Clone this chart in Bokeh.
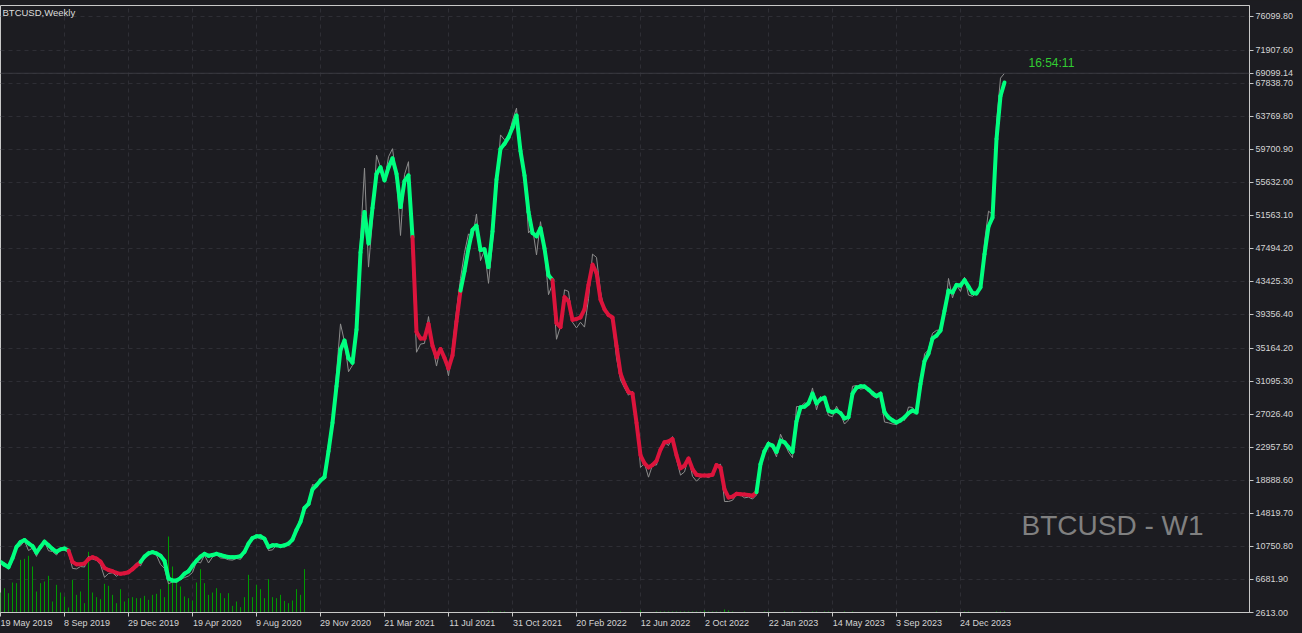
import pandas as pd
from bokeh.plotting import figure
from bokeh.models import (FixedTicker, PrintfTickFormatter, Range1d, Label, Span,
                          ColumnDataSource)
from bokeh.embed import file_html
from bokeh.resources import INLINE

# ---------------- data ----------------
symbol = "BTCUSD"
period_name = "Weekly"
first_week = "2019-05-19"
clock_text = "16:54:11"
watermark = "BTCUSD - W1"

# weekly close (thin grey line)
close = [
    8750, 8720, 7950, 8980, 10700, 10820, 11450, 10250, 10550, 9530,
    10980, 11380, 10230, 10140, 9700, 10400, 10310, 10020, 8050, 7990,
    8280, 8220, 9550, 9200, 9040, 8500, 6950, 7420, 7510, 7080,
    7510, 7390, 7760, 8190, 8700, 8360, 9350, 10170, 9930, 9670,
    8550, 8030, 6150, 6400, 6300, 6780, 6910, 7120, 7540, 8900,
    8720, 9680, 8720, 9450, 9760, 9340, 9300, 9120, 9070, 9280,
    9170, 9930, 11050, 11680, 11910, 11660, 11710, 10260, 10330, 10930,
    10770, 10680, 11380, 11500, 13030, 13740, 15480, 15960, 18400, 18180,
    19150, 19270, 23460, 26270, 32200, 38200, 36000, 32300, 33100, 38900,
    48600, 57400, 45200, 51000, 59000, 57500, 55800, 58800, 59800, 56200,
    49100, 56600, 58200, 46400, 34700, 35700, 35800, 39100, 35500, 33000,
    35300, 34200, 31800, 35400, 39900, 43800, 47000, 49300, 48800, 51750,
    46000, 47300, 43200, 48200, 54700, 61500, 60900, 61300, 63300, 64800,
    58700, 57300, 49400, 50100, 46700, 50800, 47300, 41800, 43100, 36300,
    37900, 42400, 42200, 38400, 37700, 38400, 37800, 41300, 46800, 46400,
    42200, 39700, 39500, 38500, 34000, 31300, 30300, 29400, 29900, 26600,
    20500, 21000, 19300, 20800, 20800, 22600, 23600, 23200, 24300, 21500,
    19550, 19950, 21800, 19400, 18800, 19300, 19450, 19250, 19550, 20600,
    20900, 16300, 16300, 16450, 17100, 17100, 16750, 16840, 16600, 17100,
    20900, 22700, 23700, 22900, 21800, 24600, 23500, 22400, 21700, 28000,
    28000, 28450, 28300, 30300, 27600, 29250, 28700, 26900, 26750, 28050,
    27100, 25850, 26350, 30500, 30600, 30150, 30250, 30000, 29300, 29050,
    29300, 26100, 26000, 25850, 25800, 26550, 26300, 27950, 27900, 27150,
    30000, 34500, 35000, 37050, 37400, 37450, 39450, 43800, 41400, 43000,
    42200, 43950, 41750, 41600, 42000, 42600, 48300, 52100, 51700, 63100,
    68500, 69099.14,
]

# smoothed trend line (thick coloured line)
trend = [
    8850, 8500, 8200, 9300, 10700, 11300, 11550, 11150, 10800, 10000,
    10700, 11350, 10900, 10450, 10100, 10400, 10500, 10250, 8850, 8550,
    8550, 8650, 9200, 9430, 9250, 8900, 8100, 7850, 7700, 7500,
    7380, 7450, 7580, 7950, 8400, 8850, 9500, 9900, 10050, 9900,
    9600, 9000, 6800, 6560, 6560, 6850, 7400, 7700, 8400, 9000,
    9500, 9850, 9600, 9700, 9850, 9700, 9550, 9450, 9430, 9470,
    9550, 10100, 11100, 11800, 12000, 12000, 11700, 10700, 10900, 10900,
    10800, 10900, 11100, 11600, 12800, 13800, 15500, 16000, 17800, 18300,
    18900, 19300, 22500, 26000, 30500, 35000, 36150, 34000, 33400, 37500,
    47000, 52000, 48100, 52500, 56700, 57500, 55900, 57500, 58600, 56700,
    52600, 55800, 56500, 48900, 37200, 36400, 36400, 38200, 35500, 34100,
    35100, 34000, 32700, 34300, 38500, 42300, 44700, 47500, 49800, 50300,
    47300, 47400, 45200, 49600, 56000, 59800, 60400, 61200, 62400, 63900,
    59500, 56500, 52000, 49400, 49000, 50000, 47500, 44200, 43600, 38300,
    37800, 41500, 41000, 38700, 38800, 39000, 40000, 43000, 45500, 44500,
    41200, 40000, 39300, 39000, 35500, 32100, 30800, 29800, 29600, 26000,
    22000, 21000, 20500, 20800, 21300, 22700, 23600, 23700, 24000, 22000,
    20400, 20700, 21600, 20300, 19600, 19500, 19500, 19500, 19600, 20800,
    20500, 17800, 16800, 16900, 17250, 17200, 17150, 17100, 17000, 17450,
    20900, 22500, 23400, 23200, 22400, 23800, 23600, 23000, 22400, 26200,
    27900, 28000, 28400, 29600, 28400, 28900, 29100, 27500, 27300, 27500,
    27200, 26550, 26700, 29600, 30350, 30500, 30480, 30100, 29650, 29300,
    29600, 27300, 26660, 26300, 26050, 26300, 26660, 27200, 27520, 27270,
    30800, 33600, 34550, 36400, 36750, 37380, 39800, 42300, 42070, 43000,
    42930, 43600, 42800, 42000, 41950, 42700, 46800, 50200, 51300, 61000,
    66300, 67960,
]

# tick volume (arbitrary units)
volume = [
    60, 73, 58, 90, 88, 158, 161, 170, 138, 63,
    88, 93, 110, 33, 83, 60, 48, 15, 98, 53,
    63, 28, 182, 60, 46, 40, 86, 80, 53, 28,
    70, 33, 43, 46, 43, 43, 50, 38, 53, 56,
    70, 46, 228, 138, 88, 78, 48, 43, 36, 90,
    130, 88, 53, 60, 73, 58, 43, 58, 20, 33,
    16, 46, 113, 46, 83, 70, 43, 100, 46, 43,
    53, 35, 28, 36, 70, 53, 130, 0, 0, 0,
    0, 0, 0, 0, 0, 0, 0, 0, 0, 0,
    0, 0, 0, 0, 0, 0, 0, 0, 0, 0,
    0, 0, 0, 0, 0, 0, 0, 0, 0, 0,
    0, 0, 0, 0, 0, 0, 0, 0, 0, 0,
    0, 0, 3, 3, 0, 3, 3, 0, 0, 0,
    0, 0, 0, 0, 0, 0, 0, 0, 0, 0,
    0, 0, 0, 0, 0, 0, 0, 0, 0, 0,
    0, 0, 0, 0, 0, 3, 0, 0, 0, 0,
    6, 0, 0, 0, 3, 3, 3, 3, 3, 3,
    3, 3, 3, 3, 3, 3, 6, 3, 3, 3,
    3, 9, 6, 3, 0, 0, 3, 0, 0, 0,
    0, 3, 3, 0, 0, 0, 3, 0, 3, 0,
    3, 0, 0, 3, 3, 0, 3, 3, 0, 0,
    0, 3, 0, 3, 0, 0, 0, 0, 0, 0,
    0, 0, 0, 0, 0, 0, 0, 0, 0, 0,
    0, 0, 0, 0, 3, 0, 0, 0, 0, 0,
    0, 3, 3, 0, 0, 0, 0, 0, 0, 3,
    3, 3,
]

# bearish (red) phases of the trend line: first and last week of each phase
bear_from = ["2019-09-15", "2021-05-09", "2022-01-09"]
bear_to = ["2020-01-19", "2021-08-01", "2023-01-01"]

x_tick_labels = ["19 May 2019", "8 Sep 2019", "29 Dec 2019", "19 Apr 2020",
                 "9 Aug 2020", "29 Nov 2020", "21 Mar 2021", "11 Jul 2021",
                 "31 Oct 2021", "20 Feb 2022", "12 Jun 2022", "2 Oct 2022",
                 "22 Jan 2023", "14 May 2023", "3 Sep 2023", "24 Dec 2023"]

y_ticks = [2613.00, 6681.90, 10750.80, 14819.70, 18888.60, 22957.50, 27026.40,
           31095.30, 35164.20, 39356.40, 43425.30, 47494.20, 51563.10, 55632.00,
           59700.90, 63769.80, 67838.70, 71907.60, 76099.80]

# ---------------- derived positions ----------------
t0 = pd.Timestamp(first_week)
n = len(close)
idx = list(range(n))


def week_index(s):
    return (pd.Timestamp(s) - t0).days // 7


bears = [(week_index(a), week_index(b)) for a, b in zip(bear_from, bear_to)]
x_ticks = [week_index(pd.to_datetime(lbl, format="%d %b %Y")) for lbl in x_tick_labels]

# approximate glyph widths (em) so that centred labels can be padded to start at the tick
_EM = {c: 0.556 for c in "0123456789aenopuSgb"}
_EM.update({" ": 0.278, "M": 0.833, "y": 0.5, "D": 0.722, "c": 0.5, "A": 0.667,
            "r": 0.333, "N": 0.722, "v": 0.5, "l": 0.222, "J": 0.5, "O": 0.778,
            "t": 0.278, "F": 0.611, "S": 0.667})


def left_pad(s):
    em = sum(_EM.get(ch, 0.556) for ch in s)
    return "\u00a0" * int(round(em / 0.278)) + s


BG = "#1c1c21"
GREEN = "#00ff7f"
RED = "#dc143c"
TXT = "#d4d4d4"
FONT = "Liberation Sans"

W, H = 1302, 633
RB, TB, BB = 53, 5, 21
X0 = 0
p = figure(width=W, height=H, output_backend="svg", toolbar_location=None,
           x_range=Range1d(X0, 312.25), y_range=Range1d(2613.0, 77456.0),
           y_axis_location="right", min_border_left=0, min_border_top=TB,
           min_border_right=RB, min_border_bottom=BB,
           background_fill_color=BG, border_fill_color=BG)
p.outline_line_color = "#c8c8c8"
p.outline_line_width = 1

# volume on its own scale
p.extra_y_ranges = {"vol": Range1d(0, 1821)}
p.segment(x0=idx, y0=[0] * n, x1=idx, y1=volume, y_range_name="vol",
          line_color="#009a00", line_width=1)

# current price line
p.add_layout(Span(location=close[-1], dimension="width", line_color="#3a3a40",
                  line_width=1))

# close line
p.line(idx, close, line_color="#8c8c8c", line_width=1)

# coloured trend line
x0, y0, x1, y1, col = [], [], [], [], []
for k in range(1, n):
    x0.append(k - 1); y0.append(trend[k - 1])
    x1.append(k); y1.append(trend[k])
    bear = any(a <= k - 1 < b for a, b in bears)
    col.append(RED if bear else GREEN)
src = ColumnDataSource(dict(x0=x0, y0=y0, x1=x1, y1=y1, c=col))
p.segment("x0", "y0", "x1", "y1", source=src, line_color="c", line_width=4,
          line_cap="round")

# axes
xa = p.xaxis[0]
xa.ticker = FixedTicker(ticks=x_ticks)
# the label at the left edge is kept inside the canvas by Bokeh itself
xa.major_label_overrides = {t: (left_pad(l) if t > X0 else l)
                            for t, l in zip(x_ticks, x_tick_labels)}
ya = p.yaxis[0]
ya.ticker = FixedTicker(ticks=y_ticks + [close[-1]])
ya.formatter = PrintfTickFormatter(format="%.2f")
for ax in (xa, ya):
    ax.axis_line_color = "#c8c8c8"
    ax.major_tick_line_color = "#c8c8c8"
    ax.major_tick_out = 4
    ax.major_tick_in = 0
    ax.minor_tick_line_color = None
    ax.major_label_text_color = TXT
    ax.major_label_text_font = FONT
    ax.major_label_text_font_size = "9px"
xa.major_label_standoff = 1
ya.major_label_standoff = 2

for g in (p.xgrid[0], p.ygrid[0]):
    g.grid_line_color = "#2e2e35"
    g.grid_line_dash = "4 4"
    g.grid_line_width = 1

# texts
frame_w = W - RB
frame_h = H - TB - BB
p.add_layout(Label(x=2, y=frame_h - 7, x_units="screen", y_units="screen",
                   text=f"{symbol},{period_name}", text_font=FONT,
                   text_font_size="9.5px", text_color="#dcdcdc",
                   text_baseline="middle"))
p.add_layout(Label(x=1028, y=frame_h - 57, x_units="screen", y_units="screen",
                   text=clock_text, text_font=FONT, text_font_size="12px",
                   text_color="#32cd32", text_baseline="middle"))
p.add_layout(Label(x=1203, y=87, x_units="screen", y_units="screen",
                   text=watermark, text_font=FONT, text_font_size="28px",
                   text_color="#808080", text_align="right",
                   text_baseline="middle"))

page_style = "{% block postamble %}<style>html, body { background: " + BG + "; }</style>{% endblock %}"
open("out.html", "w").write(file_html(p, INLINE, template=page_style))
